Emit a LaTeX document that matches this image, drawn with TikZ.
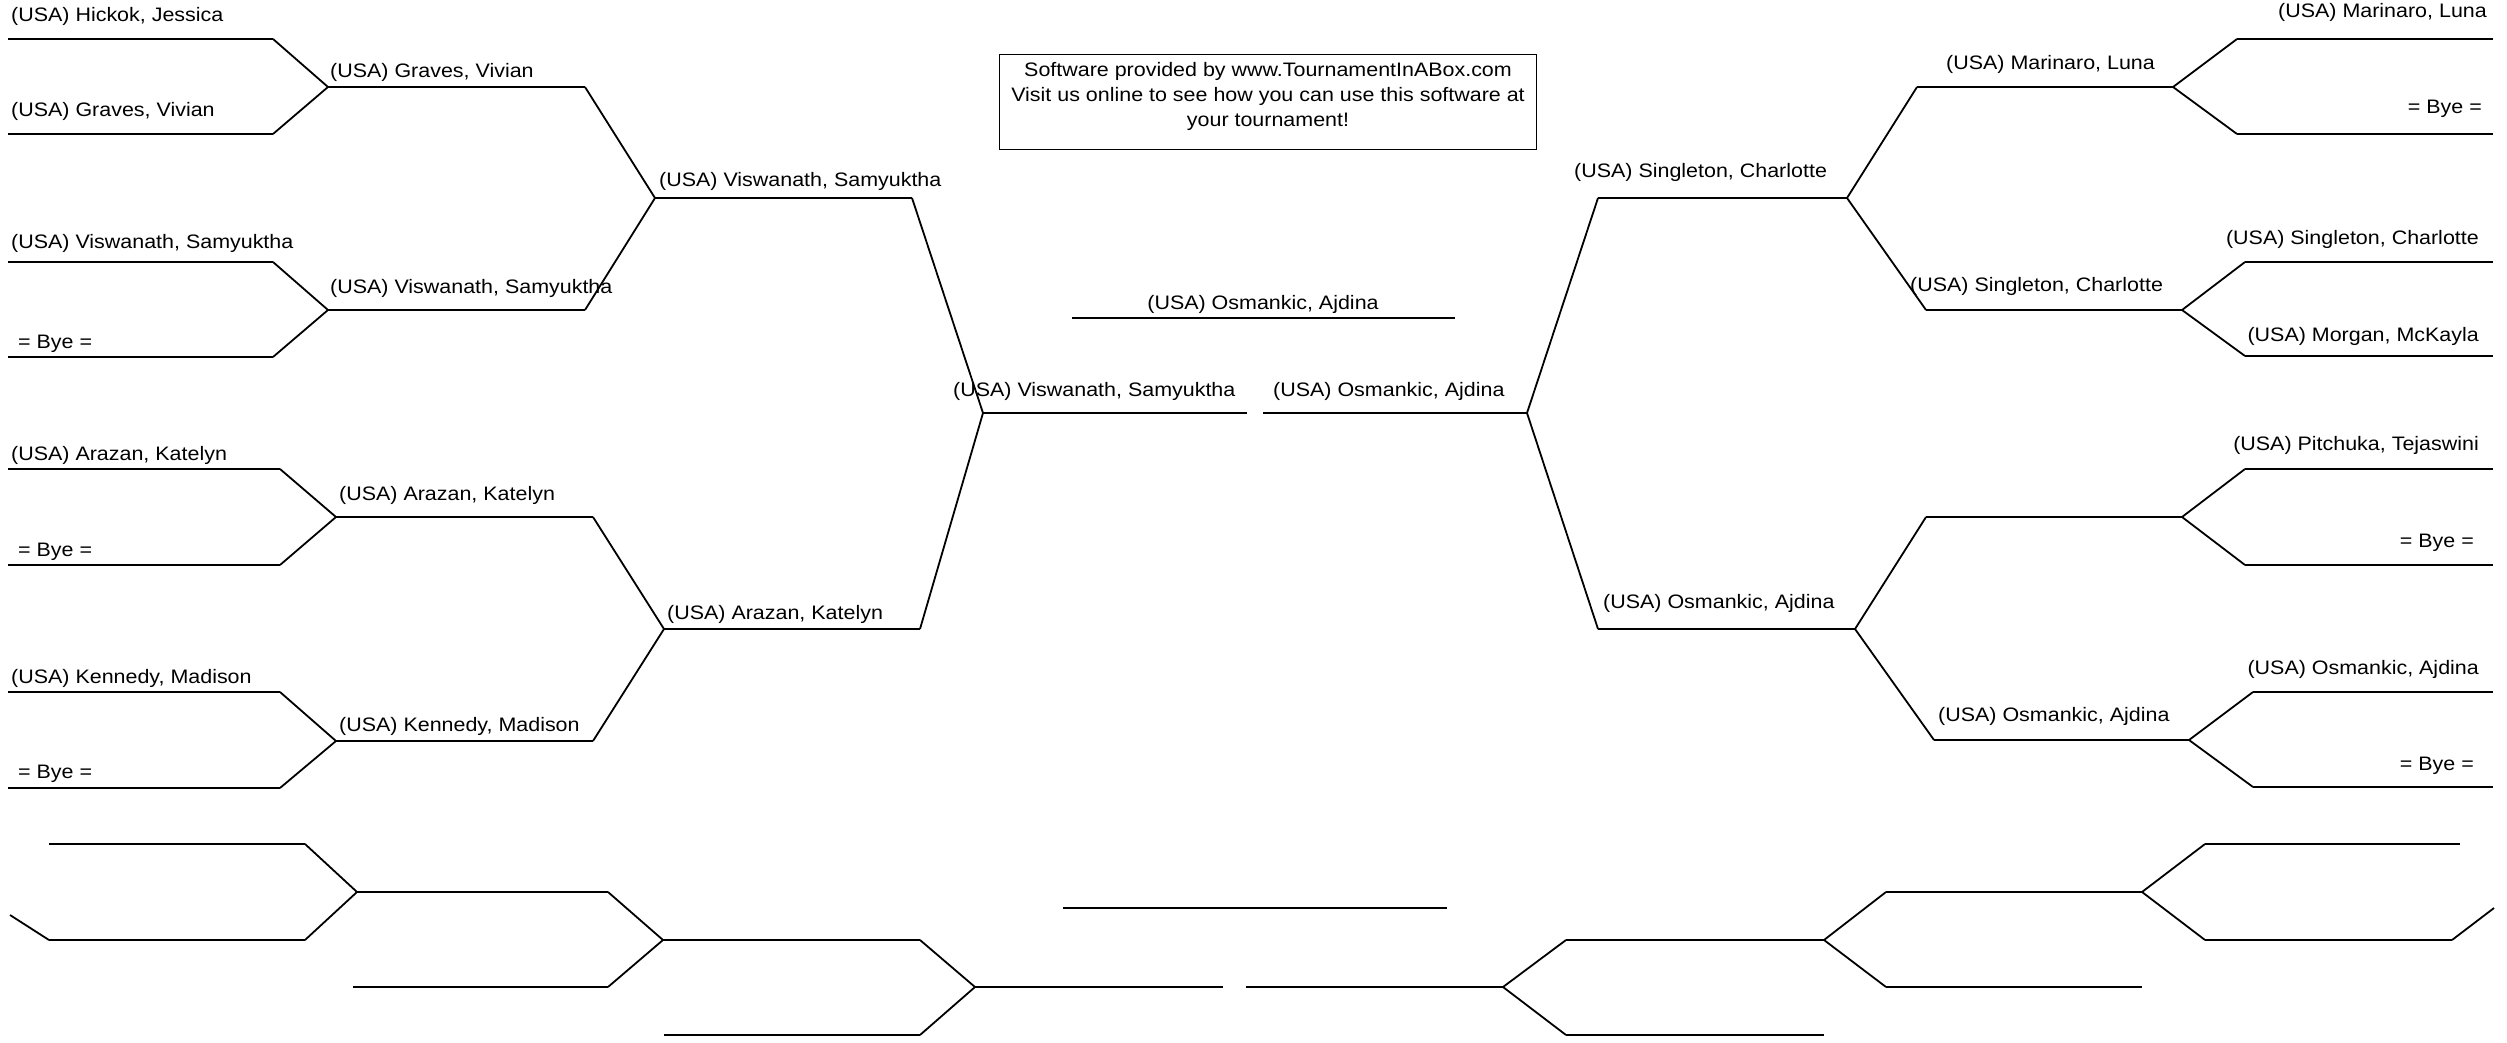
\documentclass[tikz,border=0pt]{standalone}
\usepackage{fontspec}
\setmainfont{Liberation Sans}[FakeStretch=1.1]
\begin{document}
\begin{tikzpicture}[x=1pt,y=-1pt,
  hl/.style={line width=2.8pt},
  dl/.style={line width=1.8pt},
  lbl/.style={inner sep=0pt,text height=0.73em,text depth=0.21em,font=\fontsize{19.5}{25}\selectfont},
  lt/.style={lbl,anchor=west},
  rt/.style={lbl,anchor=east}]
\useasboundingbox (0,0) rectangle (2507,1043);
% ---------- coordinates: left half ----------
\coordinate (L1a) at (8,39);   \coordinate (L1b) at (273,39);
\coordinate (L2a) at (8,134);  \coordinate (L2b) at (273,134);
\coordinate (L3a) at (8,262);  \coordinate (L3b) at (273,262);
\coordinate (L4a) at (8,357);  \coordinate (L4b) at (273,357);
\coordinate (L5a) at (8,469);  \coordinate (L5b) at (280,469);
\coordinate (L6a) at (8,565);  \coordinate (L6b) at (280,565);
\coordinate (L7a) at (8,692);  \coordinate (L7b) at (280,692);
\coordinate (L8a) at (8,788);  \coordinate (L8b) at (280,788);
\coordinate (M1a) at (328,87);  \coordinate (M1b) at (585,87);
\coordinate (M2a) at (328,310); \coordinate (M2b) at (585,310);
\coordinate (M3a) at (336,517); \coordinate (M3b) at (593,517);
\coordinate (M4a) at (336,741); \coordinate (M4b) at (593,741);
\coordinate (S1a) at (655,198); \coordinate (S1b) at (912,198);
\coordinate (S2a) at (664,629); \coordinate (S2b) at (920,629);
\coordinate (FLa) at (983,413); \coordinate (FLb) at (1247,413);
\coordinate (FRa) at (1263,413); \coordinate (FRb) at (1527,413);
\coordinate (CHa) at (1072,318); \coordinate (CHb) at (1455,318);
% ---------- coordinates: right half ----------
\coordinate (S3a) at (1598,198); \coordinate (S3b) at (1847,198);
\coordinate (S4a) at (1598,629); \coordinate (S4b) at (1855,629);
\coordinate (M5a) at (1917,87);  \coordinate (M5b) at (2173,87);
\coordinate (M6a) at (1926,310); \coordinate (M6b) at (2182,310);
\coordinate (M7a) at (1926,517); \coordinate (M7b) at (2182,517);
\coordinate (M8a) at (1934,740); \coordinate (M8b) at (2189,740);
\coordinate (R1a) at (2237,39);  \coordinate (R1b) at (2493,39);
\coordinate (R2a) at (2237,134); \coordinate (R2b) at (2493,134);
\coordinate (R3a) at (2245,262); \coordinate (R3b) at (2493,262);
\coordinate (R4a) at (2245,356); \coordinate (R4b) at (2493,356);
\coordinate (R5a) at (2245,469); \coordinate (R5b) at (2493,469);
\coordinate (R6a) at (2245,565); \coordinate (R6b) at (2493,565);
\coordinate (R7a) at (2253,692); \coordinate (R7b) at (2493,692);
\coordinate (R8a) at (2253,787); \coordinate (R8b) at (2493,787);
% ---------- coordinates: bottom strip ----------
\coordinate (BL0) at (10,915);
\coordinate (B1a) at (49,844);   \coordinate (B1b) at (305,844);
\coordinate (B2a) at (49,940);   \coordinate (B2b) at (305,940);
\coordinate (B3a) at (357,892);  \coordinate (B3b) at (608,892);
\coordinate (B4a) at (353,987);  \coordinate (B4b) at (608,987);
\coordinate (B5a) at (663,940);  \coordinate (B5b) at (920,940);
\coordinate (B6a) at (664,1035); \coordinate (B6b) at (920,1035);
\coordinate (B7a) at (975,987);  \coordinate (B7b) at (1223,987);
\coordinate (BKa) at (1063,908); \coordinate (BKb) at (1447,908);
\coordinate (B8a) at (1246,987); \coordinate (B8b) at (1503,987);
\coordinate (B9a) at (1566,940); \coordinate (B9b) at (1824,940);
\coordinate (B10a) at (1566,1035); \coordinate (B10b) at (1824,1035);
\coordinate (B11a) at (1886,892); \coordinate (B11b) at (2142,892);
\coordinate (B12a) at (1886,987); \coordinate (B12b) at (2142,987);
\coordinate (B13a) at (2205,844); \coordinate (B13b) at (2460,844);
\coordinate (B14a) at (2205,940); \coordinate (B14b) at (2452,940);
\coordinate (BR0) at (2494,908);
% ---------- horizontal lines ----------
\foreach \n in {L1,L2,L3,L4,L5,L6,L7,L8,M1,M2,M3,M4,S1,S2,FL,FR,CH,
                S3,S4,M5,M6,M7,M8,R1,R2,R3,R4,R5,R6,R7,R8,
                B1,B2,B3,B4,B5,B6,B7,BK,B8,B9,B10,B11,B12,B13,B14}
  \draw[hl] (\n a) -- (\n b);
% ---------- diagonal connectors ----------
\foreach \p/\q in {L1b/M1a,L2b/M1a,L3b/M2a,L4b/M2a,L5b/M3a,L6b/M3a,L7b/M4a,L8b/M4a,
                   M1b/S1a,M2b/S1a,M3b/S2a,M4b/S2a,S1b/FLa,S2b/FLa,
                   FRb/S3a,FRb/S4a,S3b/M5a,S3b/M6a,S4b/M7a,S4b/M8a,
                   M5b/R1a,M5b/R2a,M6b/R3a,M6b/R4a,M7b/R5a,M7b/R6a,M8b/R7a,M8b/R8a,
                   BL0/B2a,B1b/B3a,B2b/B3a,B3b/B5a,B4b/B5a,B5b/B7a,B6b/B7a,
                   B8b/B9a,B8b/B10a,B9b/B11a,B9b/B12a,B11b/B13a,B11b/B14a,B14b/BR0}
  \draw[dl] (\p) -- (\q);
% ---------- info box ----------
\node[draw,line width=1pt,minimum width=537,minimum height=95,inner sep=0pt] (info) at (1267.5,102.5) {};
\node[lbl,text height=,text depth=,align=center,font=\fontsize{19.5}{25}\selectfont] (infotext) at (1268,96)
  {Software provided by www.TournamentInABox.com\\Visit us online to see how you can use this software at\\your tournament!};
% ---------- left labels ----------
\node[lt] (t1) at (11,19) {(USA) Hickok, Jessica};
\node[lt] (t2) at (11,114) {(USA) Graves, Vivian};
\node[lt] (t3) at (11,246) {(USA) Viswanath, Samyuktha};
\node[lt] (t4) at (18,346) {= Bye =};
\node[lt] (t5) at (11,458) {(USA) Arazan, Katelyn};
\node[lt] (t6) at (18,554) {= Bye =};
\node[lt] (t7) at (11,681) {(USA) Kennedy, Madison};
\node[lt] (t8) at (18,776) {= Bye =};
\node[lt] (u1) at (330,75) {(USA) Graves, Vivian};
\node[lt] (u2) at (330,291) {(USA) Viswanath, Samyuktha};
\node[lt] (u3) at (339,498) {(USA) Arazan, Katelyn};
\node[lt] (u4) at (339,729) {(USA) Kennedy, Madison};
\node[lt] (v1) at (659,184) {(USA) Viswanath, Samyuktha};
\node[lt] (v2) at (667,617) {(USA) Arazan, Katelyn};
\node[lt] (fl) at (953,394) {(USA) Viswanath, Samyuktha};
\node[lt] (fr) at (1273,394) {(USA) Osmankic, Ajdina};
\node[lbl] (champ) at (1263,307) {(USA) Osmankic, Ajdina};
% ---------- right labels ----------
\node[rt] (r1) at (2487,15) {(USA) Marinaro, Luna};
\node[rt] (r2) at (2482,111) {= Bye =};
\node[rt] (r3) at (2479,242) {(USA) Singleton, Charlotte};
\node[rt] (r4) at (2479,339) {(USA) Morgan, McKayla};
\node[rt] (r5) at (2479,448) {(USA) Pitchuka, Tejaswini};
\node[rt] (r6) at (2474,545) {= Bye =};
\node[rt] (r7) at (2479,672) {(USA) Osmankic, Ajdina};
\node[rt] (r8) at (2474,768) {= Bye =};
\node[lt] (w1) at (1946,67) {(USA) Marinaro, Luna};
\node[lt] (w2) at (1910,289) {(USA) Singleton, Charlotte};
\node[lt] (w3) at (1938,719) {(USA) Osmankic, Ajdina};
\node[lt] (x1) at (1574,175) {(USA) Singleton, Charlotte};
\node[lt] (x2) at (1603,606) {(USA) Osmankic, Ajdina};
\end{tikzpicture}
\end{document}
